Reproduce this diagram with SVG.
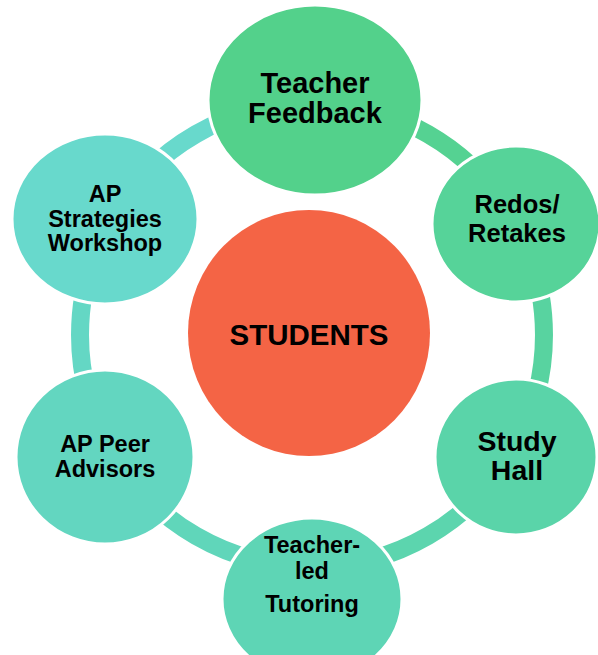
<svg xmlns="http://www.w3.org/2000/svg" width="598" height="655" viewBox="0 0 598 655">
<style>
.ring{fill:none;stroke-width:18}
.node{stroke:#ffffff;stroke-width:3}
.t{font-family:"Liberation Sans",Arial,sans-serif;font-weight:bold;fill:#000000;text-anchor:middle}
</style>
<rect width="598" height="655" fill="#ffffff"/>
<g id="connectors">
<path class="ring" stroke="#55D292" d="M312 103 A232 232 0 0 1 512.9 219"/>
<path class="ring" stroke="#58D3A0" d="M512.9 219 A232 232 0 0 1 512.9 451"/>
<path class="ring" stroke="#5CD5AE" d="M512.9 451 A232 232 0 0 1 312 567"/>
<path class="ring" stroke="#60D6BA" d="M312 567 A232 232 0 0 1 111.1 451"/>
<path class="ring" stroke="#64D7C4" d="M111.1 451 A232 232 0 0 1 111.1 219"/>
<path class="ring" stroke="#68D9CC" d="M111.1 219 A232 232 0 0 1 312 103"/>
</g>
<g id="students">
<ellipse cx="309" cy="333" rx="121" ry="123" fill="#F46445"/>
<text class="t" x="309" y="345" font-size="29.5">STUDENTS</text>
</g>
<g id="teacher-feedback">
<ellipse class="node" cx="315" cy="100" rx="107" ry="95" fill="#53D18B"/>
<text class="t" x="315" y="93" font-size="29">Teacher</text>
<text class="t" x="315" y="123" font-size="29">Feedback</text>
</g>
<g id="redos-retakes">
<ellipse class="node" cx="516" cy="224" rx="84" ry="78" fill="#56D399"/>
<text class="t" x="517" y="213" font-size="25.5">Redos/</text>
<text class="t" x="517" y="242" font-size="25.5">Retakes</text>
</g>
<g id="study-hall">
<ellipse class="node" cx="516" cy="457" rx="81" ry="78" fill="#5AD4A9"/>
<text class="t" x="517" y="451" font-size="28.5">Study</text>
<text class="t" x="517" y="480" font-size="28.5">Hall</text>
</g>
<g id="teacher-led-tutoring">
<ellipse class="node" cx="312" cy="599" rx="90" ry="81" fill="#5ED5B5"/>
<text class="t" x="312" y="553" font-size="23.5">Teacher-</text>
<text class="t" x="312" y="578.5" font-size="23.5">led</text>
<text class="t" x="312" y="612" font-size="23.5">Tutoring</text>
</g>
<g id="ap-peer-advisors">
<ellipse class="node" cx="105" cy="457" rx="89" ry="87" fill="#63D6C0"/>
<text class="t" x="105" y="452" font-size="23.5">AP Peer</text>
<text class="t" x="105" y="477" font-size="23.5">Advisors</text>
</g>
<g id="ap-strategies-workshop">
<ellipse class="node" cx="105" cy="219" rx="93" ry="85" fill="#68D9CC"/>
<text class="t" x="105" y="202" font-size="23.5">AP</text>
<text class="t" x="105" y="227" font-size="23.5">Strategies</text>
<text class="t" x="105" y="251" font-size="23.5">Workshop</text>
</g>
</svg>
